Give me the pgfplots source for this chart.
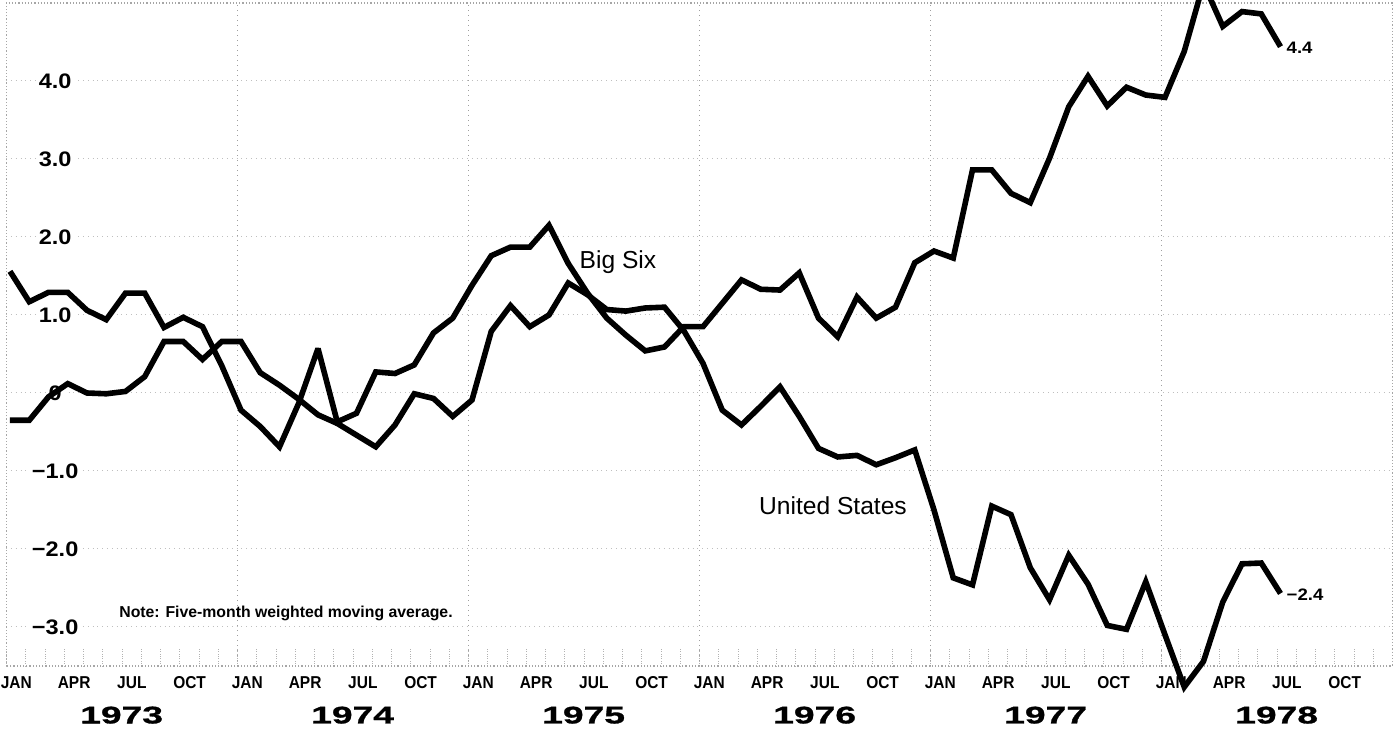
\documentclass[border=0pt]{standalone}
\usepackage{fontspec}
\setmainfont{Liberation Sans}
\newfontfamily\yearfont{Liberation Sans}[FakeStretch=1.55, BoldFeatures={FakeBold=1.2}]
\newfontfamily\widefont{Liberation Sans}[FakeStretch=1.12]
\newfontfamily\monthfont{Liberation Sans}[FakeStretch=0.9]
\usepackage{pgfplots}
\pgfplotsset{compat=1.18}

\begin{document}
\begin{tikzpicture}
\useasboundingbox (0,0) rectangle (700pt,366pt);
\begin{axis}[
  at={(3.075pt,33pt)}, anchor=south west,
  scale only axis, width=693pt, height=331.5pt,
  xmin=-0.2, xmax=71.8, ymin=-3.5, ymax=5.0,
  clip=false,
  axis line style={gray!70, densely dotted, line width=0.6pt},
  xtick={0.33,3.33,6.33,9.33,12.33,15.33,18.33,21.33,24.33,27.33,30.33,33.33,36.33,39.33,42.33,45.33,48.33,51.33,54.33,57.33,60.33,63.33,66.33,69.33},
  xticklabels={JAN,APR,JUL,OCT,JAN,APR,JUL,OCT,JAN,APR,JUL,OCT,JAN,APR,JUL,OCT,JAN,APR,JUL,OCT,JAN,APR,JUL,OCT},
  major tick length=0pt,
  minor xtick={-0.17,0.83,...,71.83},
  minor tick length=8.5pt,
  xtick pos=left, ytick pos=left,
  tick align=inside,
  xtick style={gray!60, densely dotted, line width=0.5pt},
  xticklabel style={font=\monthfont\bfseries\fontsize{8.6}{9}\selectfont, yshift=-1.7pt},
  extra x ticks={11.83,23.83,35.83,47.83,59.83},
  extra x tick labels={},
  extra x tick style={grid=major, major grid style={gray!75, dotted, line width=0.6pt}},
  ytick={-3,-2,-1,0,1,2,3,4},
  yticklabels={−3.0,−2.0,−1.0,0,1.0,2.0,3.0,4.0},
  ymajorgrids,
  major grid style={gray!50, dotted, line width=0.5pt},
  yticklabel style={font=\widefont\bfseries\fontsize{10.5}{12}\selectfont, anchor=center, xshift=24.5pt, fill=white, inner sep=1.5pt},
]
\node[font=\bfseries\fontsize{7.9}{9}\selectfont, anchor=west, inner sep=0pt] at (axis cs:5.66,-2.82) {Note: Five-month weighted moving average.};
\node[font=\fontsize{12.3}{14}\selectfont, inner sep=0pt] at (axis cs:31.58,1.68) {Big Six};
\node[font=\fontsize{12.3}{14}\selectfont, inner sep=0pt] at (axis cs:42.75,-1.45) {United States};

\addplot[black, line width=2.8pt, line join=miter, miter limit=3] coordinates {
(0,1.56) (1,1.17) (2,1.29) (3,1.29) (4,1.06) (5,0.94) (6,1.28) (7,1.28) (8,0.84) (9,0.97) (10,0.85) (11,0.35) (12,-0.22) (13,-0.43) (14,-0.69) (15,-0.13) (16,0.57) (17,-0.37) (18,-0.26) (19,0.27) (20,0.25) (21,0.36) (22,0.77) (23,0.96) (24,1.38) (25,1.76) (26,1.87) (27,1.87) (28,2.15) (29,1.66) (30,1.28) (31,0.96) (32,0.74) (33,0.54) (34,0.59) (35,0.85) (36,0.85) (37,1.15) (38,1.45) (39,1.33) (40,1.32) (41,1.54) (42,0.96) (43,0.72) (44,1.23) (45,0.96) (46,1.10) (47,1.67) (48,1.82) (49,1.73) (50,2.86) (51,2.86) (52,2.56) (53,2.44) (54,3.01) (55,3.67) (56,4.06) (57,3.68) (58,3.92) (59,3.82) (60,3.79) (61,4.38) (62,5.25) (63,4.70) (64,4.89) (65,4.86) (66,4.44)
};
\addplot[black, line width=2.8pt, line join=miter, miter limit=3] coordinates {
(0,-0.35) (1,-0.35) (2,-0.05) (3,0.12) (4,0.0) (5,-0.01) (6,0.02) (7,0.21) (8,0.66) (9,0.66) (10,0.43) (11,0.66) (12,0.66) (13,0.26) (14,0.10) (15,-0.08) (16,-0.28) (17,-0.39) (18,-0.54) (19,-0.69) (20,-0.41) (21,-0.01) (22,-0.07) (23,-0.30) (24,-0.09) (25,0.79) (26,1.12) (27,0.85) (28,1.00) (29,1.41) (30,1.26) (31,1.07) (32,1.05) (33,1.09) (34,1.10) (35,0.80) (36,0.38) (37,-0.22) (38,-0.41) (39,-0.17) (40,0.08) (41,-0.30) (42,-0.71) (43,-0.82) (44,-0.80) (45,-0.92) (46,-0.83) (47,-0.73) (48,-1.50) (49,-2.37) (50,-2.46) (51,-1.45) (52,-1.56) (53,-2.24) (54,-2.65) (55,-2.08) (56,-2.45) (57,-2.98) (58,-3.03) (59,-2.42) (60,-3.10) (61,-3.77) (62,-3.44) (63,-2.68) (64,-2.19) (65,-2.18) (66,-2.57)
};

\node[anchor=west, inner sep=0pt, font=\widefont\bfseries\fontsize{8.3}{9}\selectfont] at (axis cs:66.3,4.42) {4.4};
\node[anchor=west, inner sep=0pt, font=\widefont\bfseries\fontsize{8.3}{9}\selectfont] at (axis cs:66.3,-2.59) {−2.4};

\node[font=\yearfont\bfseries\fontsize{12}{14}\selectfont] at (axis cs:5.8,-4.13) {1973};
\node[font=\yearfont\bfseries\fontsize{12}{14}\selectfont] at (axis cs:17.8,-4.13) {1974};
\node[font=\yearfont\bfseries\fontsize{12}{14}\selectfont] at (axis cs:29.8,-4.13) {1975};
\node[font=\yearfont\bfseries\fontsize{12}{14}\selectfont] at (axis cs:41.8,-4.13) {1976};
\node[font=\yearfont\bfseries\fontsize{12}{14}\selectfont] at (axis cs:53.8,-4.13) {1977};
\node[font=\yearfont\bfseries\fontsize{12}{14}\selectfont] at (axis cs:65.8,-4.13) {1978};
\end{axis}
\end{tikzpicture}
\end{document}
